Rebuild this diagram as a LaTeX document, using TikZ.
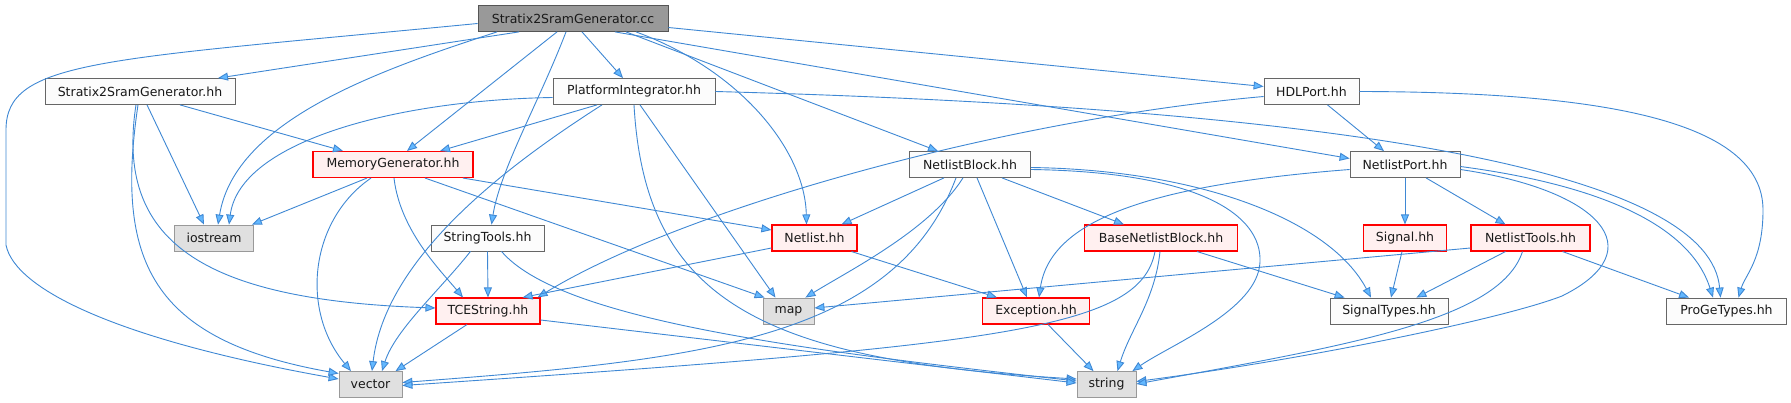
\documentclass[tikz,border=0pt]{standalone}
\usepackage{fontspec}
\setmainfont{DejaVu Sans}
\usetikzlibrary{calc,arrows.meta}
\definecolor{edgec}{HTML}{3F88D4}
\definecolor{tipc}{HTML}{63B8FF}
\definecolor{rootfill}{HTML}{999999}
\definecolor{rootdraw}{HTML}{555555}
\definecolor{plainfill}{HTML}{FCFCFC}
\definecolor{plaindraw}{HTML}{666666}
\definecolor{redfill}{HTML}{FFF0F0}
\definecolor{reddraw}{HTML}{FF0000}
\definecolor{sysfill}{HTML}{E0E0E0}
\definecolor{sysdraw}{HTML}{999999}
\begin{document}
\begin{tikzpicture}[x=1pt,y=-1pt,
  nbox/.style={draw, rectangle, minimum height=26pt, inner sep=0pt, line width=0.8pt,
    font=\fontsize{12.5}{14}\selectfont, text={black!90}},
  nroot/.style={nbox, fill=rootfill, draw=rootdraw},
  nplain/.style={nbox, fill=plainfill, draw=plaindraw},
  nred/.style={nbox, fill=redfill, draw=reddraw, line width=1.1pt},
  nsys/.style={nbox, fill=sysfill, draw=sysdraw},
  conn/.style={draw=edgec, line width=0.9pt, -{Triangle[length=10pt,width=8pt,fill=tipc]}}
]
\fill[white] (0,0) rectangle (1791,403);
\useasboundingbox (0,0) rectangle (1791,403);

% nodes
\node[nroot, minimum width=190pt] (cc) at (573,18.5) {Stratix2SramGenerator.cc};
\node[nplain, minimum width=190pt] (S2S) at (140,91.5) {Stratix2SramGenerator.hh};
\node[nplain, minimum width=162pt] (PI) at (634,91.5) {PlatformIntegrator.hh};
\node[nplain, minimum width=95pt] (HDL) at (1311.5,91.5) {HDLPort.hh};
\node[nred, minimum width=160pt] (MG) at (393,164.5) {MemoryGenerator.hh};
\node[nplain, minimum width=121pt] (NB) at (970,164.5) {NetlistBlock.hh};
\node[nplain, minimum width=110pt] (NP) at (1405,164.5) {NetlistPort.hh};
\node[nsys, minimum width=79pt] (IO) at (214,238) {iostream};
\node[nplain, minimum width=113pt] (ST) at (487.5,238) {StringTools.hh};
\node[nred, minimum width=85pt] (NL) at (814.5,238) {Netlist.hh};
\node[nred, minimum width=153pt] (BNB) at (1161,238) {BaseNetlistBlock.hh};
\node[nred, minimum width=83pt] (SG) at (1405,238) {Signal.hh};
\node[nred, minimum width=119pt] (NT) at (1530.5,238) {NetlistTools.hh};
\node[nred, minimum width=104pt] (TCE) at (488,311) {TCEString.hh};
\node[nsys, minimum width=51pt] (MAP) at (788.5,311) {map};
\node[nred, minimum width=107pt] (EXC) at (1036,311) {Exception.hh};
\node[nplain, minimum width=118pt] (STY) at (1389,311) {SignalTypes.hh};
\node[nplain, minimum width=120pt] (PGT) at (1726.5,311) {ProGeTypes.hh};
\node[nsys, minimum width=63pt] (VEC) at (370.5,384.5) {vector};
\node[nsys, minimum width=59pt] (STR) at (1106.5,384.5) {string};

% edges from Stratix2SramGenerator.cc
\draw[conn] ($(cc.south)+(-54,0)$) -- ($(S2S.north)+(78,0)$);
\draw[conn] ($(cc.south)+(9,0)$) -- ($(PI.north)+(-11,0)$);
\draw[conn] ($(cc.east)+(0,9)$) -- ($(HDL.west)+(0,-5)$);
\draw[conn] ($(cc.south)+(-16,0)$) -- ($(MG.north)+(14,0)$);
\draw[conn] ($(cc.south)+(-76,0)$) .. controls (380,70) and (235,120) .. ($(IO.north)+(4,0)$);
\draw[conn] ($(cc.south)+(-7,0)$) .. controls (540,100) and (500,170) .. ($(ST.north)+(4,0)$);
\draw[conn] ($(cc.south)+(63,0)$) .. controls (740,70) and (805,150) .. ($(NL.north)+(-8,0)$);
\draw[conn] ($(cc.south)+(53,0)$) -- ($(NB.north)+(-32,0)$);
\draw[conn] ($(cc.south)+(42,0)$) -- ($(NP.west)+(0,-6)$);
\draw[conn] ($(cc.west)+(0,5)$) .. controls (100,60) and (6,60) .. (6,130) -- (6,245)
  .. controls (15,290) and (120,340) .. ($(VEC.west)+(0,-5.5)$);

% Stratix2SramGenerator.hh
\draw[conn] ($(S2S.south)+(40,0)$) -- ($(MG.north)+(-50,0)$);
\draw[conn] ($(S2S.south)+(7,0)$) -- ($(IO.north)+(-10,0)$);
\draw[conn] ($(S2S.south)+(-2,0)$) .. controls (115,260) and (150,340) .. ($(VEC.west)+(0,-11)$);
\draw[conn] ($(S2S.south)+(-4,0)$) .. controls (115,240) and (200,300) .. ($(TCE.west)+(0,-3)$);

% PlatformIntegrator.hh
\draw[conn] ($(PI.south)+(-37,0)$) -- ($(MG.north)+(47,0)$);
\draw[conn] ($(PI.west)+(0,6)$) .. controls (400,100) and (240,140) .. ($(IO.north)+(15,0)$);
\draw[conn] ($(PI.south)+(-32,0)$) .. controls (500,170) and (385,260) .. ($(VEC.north)+(1.5,0)$);
\draw[conn] ($(PI.south)+(6,0)$) -- ($(MAP.north)+(-13,0)$);
\draw[conn] (PI.south) .. controls (645,300) and (760,360) .. ($(STR.west)+(0,-5.5)$);
\draw[conn] (PI.east) .. controls (1400,110) and (1710,180) .. ($(PGT.north)+(-6,0)$);

% HDLPort.hh
\draw[conn] ($(HDL.south)+(16,0)$) -- ($(NP.north)+(-21,0)$);
\draw[conn] ($(HDL.west)+(0,5)$) .. controls (1000,120) and (680,210) .. ($(TCE.north east)+(-3,0)$);
\draw[conn] (HDL.east) .. controls (1600,92) and (1763,120) .. (1763,210)
  .. controls (1763,260) and (1745,275) .. ($(PGT.north)+(12,0)$);

% MemoryGenerator.hh
\draw[conn] ($(MG.south)+(-26,0)$) -- ($(IO.north east)+(-2,0)$);
\draw[conn] ($(MG.south)+(-22,0)$) .. controls (310,220) and (300,310) .. ($(VEC.north)+(-19.5,0)$);
\draw[conn] ($(MG.south)+(1,0)$) .. controls (400,230) and (440,270) .. ($(TCE.north)+(-25,0)$);
\draw[conn] ($(MG.south)+(32,0)$) -- ($(MAP.north west)+(2,0)$);
\draw[conn] ($(MG.south)+(70,0)$) -- ($(NL.west)+(0,-8)$);

% StringTools.hh
\draw[conn] (ST.south) -- (TCE.north);
\draw[conn] ($(ST.south)+(-17,0)$) .. controls (440,290) and (395,330) .. ($(VEC.north)+(11.5,0)$);
\draw[conn] ($(ST.south)+(14,0)$) .. controls (560,320) and (800,350) .. ($(STR.west)+(0,-3.5)$);

% TCEString.hh
\draw[conn] ($(TCE.south)+(-21,0)$) -- ($(VEC.north)+(25,0)$);
\draw[conn] ($(TCE.east)+(0,9)$) -- ($(STR.west)+(0,-1.5)$);

% Netlist.hh
\draw[conn] ($(NL.west)+(0,10)$) -- ($(TCE.north east)+(-18,0)$);
\draw[conn] ($(NL.south)+(37,0)$) -- ($(EXC.north west)+(15,0)$);

% NetlistBlock.hh
\draw[conn] ($(NB.south)+(-26,0)$) -- ($(NL.north east)+(-16,0)$);
\draw[conn] ($(NB.south)+(-14,0)$) .. controls (895,340) and (700,360) .. ($(VEC.east)+(0,-2)$);
\draw[conn] ($(NB.south)+(-7,0)$) .. controls (930,230) and (850,270) .. ($(MAP.north east)+(-9,0)$);
\draw[conn] ($(NB.south)+(7,0)$) -- ($(EXC.north)+(-9,0)$);
\draw[conn] ($(NB.south)+(32,0)$) -- ($(BNB.north)+(-37,0)$);
\draw[conn] ($(NB.east)+(0,3)$) .. controls (1200,170) and (1330,220) .. ($(STY.north)+(-18,0)$);
\draw[conn] ($(NB.east)+(0,5)$) .. controls (1200,172) and (1262,215) .. (1260,262)
  .. controls (1258,310) and (1170,345) .. ($(STR.north east)+(-4,0)$);

% BaseNetlistBlock.hh
\draw[conn] ($(BNB.south)+(-6,0)$) .. controls (1140,330) and (1000,345) .. ($(VEC.east)+(0,1)$);
\draw[conn] ($(BNB.south)+(-1,0)$) .. controls (1155,300) and (1130,330) .. ($(STR.north)+(11,0)$);
\draw[conn] ($(BNB.south)+(36,0)$) -- ($(STY.north west)+(15,0)$);

% NetlistPort.hh
\draw[conn] ($(NP.west)+(0,5)$) .. controls (1150,185) and (1050,220) .. ($(EXC.north)+(3,0)$);
\draw[conn] (NP.south) -- (SG.north);
\draw[conn] ($(NP.south)+(21,0)$) -- ($(NT.north)+(-25,0)$);
\draw[conn] ($(NP.east)+(0,2)$) .. controls (1600,185) and (1690,225) .. ($(PGT.north)+(-13.5,0)$);
\draw[conn] ($(NP.east)+(0,5)$) .. controls (1600,190) and (1655,250) .. (1562,296)
  .. controls (1500,320) and (1300,360) .. ($(STR.east)+(0,-3)$);

% Signal.hh
\draw[conn] ($(SG.south)+(-3,0)$) -- ($(STY.north)+(2,0)$);

% NetlistTools.hh
\draw[conn] ($(NT.west)+(0,10)$) -- ($(MAP.east)+(0,-3)$);
\draw[conn] ($(NT.south)+(-25,0)$) -- ($(STY.north east)+(-32,0)$);
\draw[conn] ($(NT.south)+(-8,0)$) .. controls (1500,320) and (1350,345) .. ($(STR.east)+(0,-0.5)$);
\draw[conn] ($(NT.south)+(32,0)$) -- ($(PGT.north west)+(23,0)$);

% Exception.hh
\draw[conn] ($(EXC.south)+(12,0)$) -- ($(STR.north)+(-13,0)$);
\end{tikzpicture}
\end{document}
